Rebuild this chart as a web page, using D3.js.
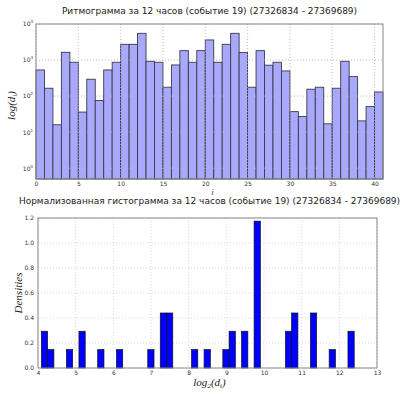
<!DOCTYPE html>
<html>
<head>
<meta charset="utf-8">
<script src="https://cdn.jsdelivr.net/npm/d3@7"></script>
<style>
  body { margin: 0; background: #fff; }
  svg { display: block; font-family: "DejaVu Sans", sans-serif; }
  .grid line { stroke: #bbb; stroke-width: 0.6; stroke-dasharray: 1 2; }
  .tick text { fill: #333; }
  .math { font-family: "Liberation Serif", "DejaVu Serif", serif; font-style: italic; fill: #222; }
</style>
</head>
<body>
<svg id="chart" width="400" height="394"></svg>
<script>
// Ритмограмма: d_i по номеру интервала i (log scale)
const rhythmIndex = d3.range(41);
const rhythmValues = [
  531, 165, 16, 1640, 867, 36, 293, 75, 531, 867,
  2730, 2730, 5510, 922, 867, 176, 731, 1825, 867, 1825,
  3610, 867, 2730, 5510, 1610, 176, 1825, 720, 867, 498,
  37, 27, 155, 176, 17, 165, 922, 347, 20.5, 51,
  130
];
const rhythmXTicks = [0, 5, 10, 15, 20, 25, 30, 35, 40];
const rhythmYTicks = [1, 10, 100, 1000, 10000];

// Нормализованная гистограмма log2(d_i)
const histBinWidth = 0.1661;
const histBinLeft = [
  4.09, 4.256, 4.754, 5.087, 5.585, 6.083, 6.914, 7.246, 7.412, 8.076,
  8.409, 8.907, 9.073, 9.405, 9.737, 10.568, 10.734, 11.232, 11.730, 12.229
];
const histDensity = [
  0.294, 0.147, 0.147, 0.294, 0.147, 0.147, 0.147, 0.440, 0.440, 0.147,
  0.147, 0.147, 0.294, 0.294, 1.175, 0.294, 0.440, 0.440, 0.147, 0.294
];
const histXTicks = [4, 5, 6, 7, 8, 9, 10, 11, 12, 13];
const histYTicks = [0, 0.2, 0.4, 0.6, 0.8, 1.0, 1.2];

const svg = d3.select("#chart");

function drawFrame(g, w, h) {
  g.append("rect")
    .attr("x", 0).attr("y", 0).attr("width", w).attr("height", h)
    .attr("fill", "none").attr("stroke", "#888").attr("stroke-width", 1);
}

function drawGrid(g, xScale, yScale, xTicks, yTicks, w, h) {
  const grid = g.append("g").attr("class", "grid");
  grid.selectAll(".gx").data(xTicks).join("line")
    .attr("x1", (d) => xScale(d)).attr("x2", (d) => xScale(d))
    .attr("y1", 0).attr("y2", h);
  grid.selectAll(".gy").data(yTicks).join("line")
    .attr("x1", 0).attr("x2", w)
    .attr("y1", (d) => yScale(d)).attr("y2", (d) => yScale(d));
}

// ---------- top chart ----------
{
  const m = { left: 36, top: 24, right: 383, bottom: 179 };
  const w = m.right - m.left;
  const h = m.bottom - m.top;
  const x = d3.scaleLinear().domain([0, 41]).range([0, w]);
  const y = d3.scaleLog().domain([0.5, 10000]).range([h, 0]);

  svg.append("text")
    .attr("x", m.left + w / 2).attr("y", 14)
    .attr("text-anchor", "middle").attr("font-size", 9).attr("fill", "#222")
    .text("Ритмограмма за 12 часов (событие 19) (27326834 - 27369689)");

  const g = svg.append("g").attr("transform", `translate(${m.left},${m.top})`);
  drawGrid(g, x, y, rhythmXTicks, rhythmYTicks, w, h);

  g.selectAll(".bar").data(rhythmValues).join("rect")
    .attr("x", (d, i) => x(rhythmIndex[i]))
    .attr("width", x(1) - x(0))
    .attr("y", (d) => y(d))
    .attr("height", (d) => h - y(d))
    .attr("fill", "#a8a8fc")
    .attr("stroke", "#3a3a4a").attr("stroke-width", 0.9);

  // grid drawn above bars too (matplotlib grid overlay)
  drawGrid(g, x, y, rhythmXTicks, rhythmYTicks, w, h);
  drawFrame(g, w, h);

  const xAxis = g.append("g").attr("transform", `translate(0,${h})`)
    .call(d3.axisBottom(x).tickValues(rhythmXTicks).tickSize(0).tickPadding(3));
  xAxis.select(".domain").remove();
  xAxis.selectAll("text").attr("font-size", 6).attr("font-family", "DejaVu Sans");

  const yAxis = g.append("g")
    .call(d3.axisLeft(y).tickValues(rhythmYTicks).tickSize(0).tickPadding(3).tickFormat(""));
  yAxis.select(".domain").remove();
  yAxis.selectAll(".tick text").each(function (d) {
    const t = d3.select(this).attr("font-size", 6).attr("font-family", "DejaVu Sans");
    t.append("tspan").text("10");
    t.append("tspan").attr("dy", -3).attr("font-size", 4).text(Math.round(Math.log10(d)));
  });

  svg.append("text").attr("class", "math")
    .attr("transform", `translate(15,${m.top + h / 2 + 4}) rotate(-90)`)
    .attr("text-anchor", "middle").attr("font-size", 11)
    .html("log(d<tspan dy='2' font-size='7'>i</tspan><tspan dy='-2'>)</tspan>");

  svg.append("text").attr("class", "math")
    .attr("x", m.left + w / 2 + 3).attr("y", 195)
    .attr("text-anchor", "middle").attr("font-size", 8)
    .text("i");
}

// ---------- bottom chart ----------
{
  const m = { left: 38, top: 218, right: 377, bottom: 368 };
  const w = m.right - m.left;
  const h = m.bottom - m.top;
  const x = d3.scaleLinear().domain([4, 13]).range([0, w]);
  const y = d3.scaleLinear().domain([0, 1.2]).range([h, 0]);

  svg.append("text")
    .attr("x", m.left + w / 2 + 2).attr("y", 204)
    .attr("text-anchor", "middle").attr("font-size", 9).attr("fill", "#222")
    .text("Нормализованная гистограмма за 12 часов (событие 19) (27326834 - 27369689)");

  const g = svg.append("g").attr("transform", `translate(${m.left},${m.top})`);
  drawGrid(g, x, y, histXTicks, histYTicks, w, h);

  g.selectAll(".hbar").data(histDensity).join("rect")
    .attr("x", (d, i) => x(histBinLeft[i]))
    .attr("width", x(4 + histBinWidth) - x(4))
    .attr("y", (d) => y(d))
    .attr("height", (d) => h - y(d))
    .attr("fill", "#0000ff")
    .attr("stroke", "#111").attr("stroke-width", 0.7);

  drawFrame(g, w, h);

  const xAxis = g.append("g").attr("transform", `translate(0,${h})`)
    .call(d3.axisBottom(x).tickValues(histXTicks).tickSize(0).tickPadding(3));
  xAxis.select(".domain").remove();
  xAxis.selectAll("text").attr("font-size", 6).attr("font-family", "DejaVu Sans");

  const yAxis = g.append("g")
    .call(d3.axisLeft(y).tickValues(histYTicks).tickSize(0).tickPadding(4).tickFormat(d3.format(".1f")));
  yAxis.select(".domain").remove();
  yAxis.selectAll("text").attr("font-size", 6).attr("font-family", "DejaVu Sans");

  svg.append("text").attr("class", "math")
    .attr("transform", `translate(22,${m.top + h / 2}) rotate(-90)`)
    .attr("text-anchor", "middle").attr("font-size", 11)
    .text("Densities");

  svg.append("text").attr("class", "math")
    .attr("x", m.left + w / 2 + 2).attr("y", 386)
    .attr("text-anchor", "middle").attr("font-size", 11)
    .html("log<tspan dy='2' font-size='7'>2</tspan><tspan dy='-2'>(d</tspan><tspan dy='2' font-size='7'>i</tspan><tspan dy='-2'>)</tspan>");
}
</script>
</body>
</html>
